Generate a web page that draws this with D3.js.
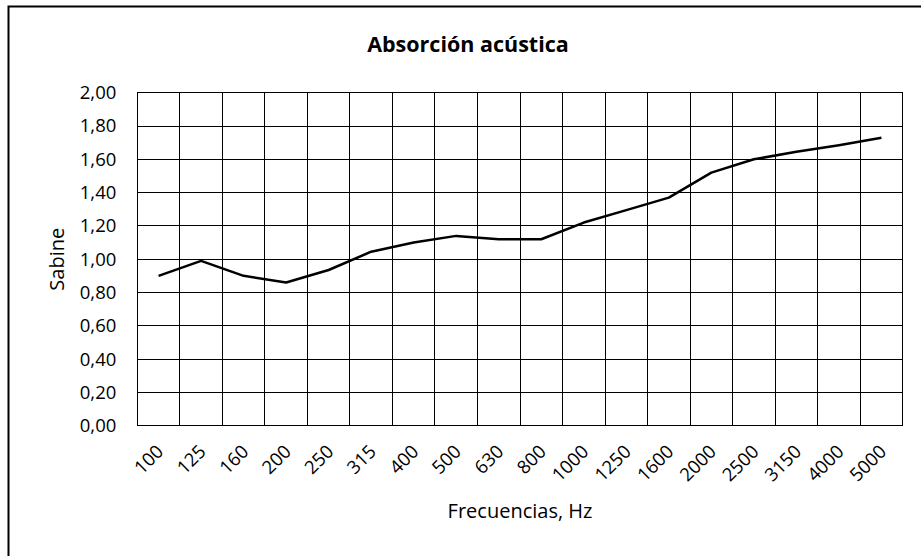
<!DOCTYPE html>
<html>
<head>
<meta charset="utf-8">
<script src="https://cdn.jsdelivr.net/npm/d3@7"></script>
<style>
  body { margin: 0; background: #fff; }
  text { font-family: "Open Sans", sans-serif; fill: #000; }
</style>
</head>
<body>
<svg id="chart"></svg>
<script>
// frecuencias (Hz) y absorción (Sabine)
const frequencies = ['100', '125', '160', '200', '250', '315', '400', '500', '630', '800',
  '1000', '1250', '1600', '2000', '2500', '3150', '4000', '5000']
const sabine = [0.90, 0.99, 0.90, 0.86, 0.935, 1.045, 1.10, 1.14, 1.12, 1.12,
  1.22, 1.295, 1.37, 1.52, 1.60, 1.645, 1.685, 1.73]
const yTicks = [0, 0.2, 0.4, 0.6, 0.8, 1.0, 1.2, 1.4, 1.6, 1.8, 2.0]

const width = 921, height = 556
const margin = {top: 92.7, right: 18.3, bottom: 130.3, left: 137.3}

const svg = d3.select('#chart')
  .attr('width', width)
  .attr('height', height)

// marco exterior
svg.append('rect')
  .attr('x', 8.5)
  .attr('y', 6.5)
  .attr('width', width + 20)
  .attr('height', height + 20)
  .attr('fill', 'none')
  .attr('stroke', '#000')
  .attr('stroke-width', 2)

const xScale = d3.scaleBand()
  .domain(frequencies)
  .range([margin.left, width - margin.right])

const yScale = d3.scaleLinear()
  .domain([0, 2])
  .range([height - margin.bottom, margin.top])

const fmt = v => d3.format('.2f')(v).replace('.', ',')

// rejilla horizontal
svg.append('g')
  .selectAll('line')
  .data(yTicks)
  .enter().append('line')
    .attr('x1', margin.left)
    .attr('x2', width - margin.right)
    .attr('y1', d => yScale(d))
    .attr('y2', d => yScale(d))
    .attr('stroke', '#000')
    .attr('stroke-width', 1)
    .attr('shape-rendering', 'crispEdges')

// rejilla vertical
const vLines = frequencies.map(f => xScale(f)).concat([width - margin.right])
svg.append('g')
  .selectAll('line')
  .data(vLines)
  .enter().append('line')
    .attr('x1', d => d)
    .attr('x2', d => d)
    .attr('y1', margin.top)
    .attr('y2', height - margin.bottom)
    .attr('stroke', '#000')
    .attr('stroke-width', 1)
    .attr('shape-rendering', 'crispEdges')

// eje y
const yAxis = d3.axisLeft(yScale)
  .tickValues(yTicks)
  .tickFormat(fmt)
  .tickSize(0)
  .tickPadding(21)

svg.append('g')
  .attr('class', 'y axis')
  .attr('transform', `translate(${margin.left}, 0)`)
  .call(yAxis)
  .call(g => g.select('.domain').remove())
  .selectAll('text')
    .style('font-size', '18.5px')

// eje x
const xAxis = d3.axisBottom(xScale).tickSize(0)
svg.append('g')
  .attr('class', 'x axis')
  .attr('transform', `translate(0, ${height - margin.bottom})`)
  .call(xAxis)
  .call(g => g.select('.domain').remove())
  .selectAll('text')
    .style('font-size', '18.5px')
    .attr('text-anchor', 'end')
    .attr('dy', null)
    .attr('y', 0)
    .attr('transform', 'translate(6, 27) rotate(-45)')

// línea
const line = d3.line()
  .x((d, i) => xScale(frequencies[i]) + xScale.bandwidth() / 2)
  .y(d => yScale(d))

svg.append('path')
  .datum(sabine)
  .attr('d', line)
  .attr('fill', 'none')
  .attr('stroke', '#000')
  .attr('stroke-width', 2.5)
  .attr('stroke-linejoin', 'round')

// títulos
svg.append('text')
  .attr('x', 468)
  .attr('y', 52)
  .attr('text-anchor', 'middle')
  .style('font-size', '21.5px')
  .style('font-weight', 'bold')
  .text('Absorción acústica')

svg.append('text')
  .attr('x', 520)
  .attr('y', 518)
  .attr('text-anchor', 'middle')
  .style('font-size', '20px')
  .text('Frecuencias, Hz')

svg.append('text')
  .attr('transform', `translate(64, ${(margin.top + height - margin.bottom) / 2}) rotate(-90)`)
  .attr('text-anchor', 'middle')
  .style('font-size', '20px')
  .text('Sabine')
</script>
</body>
</html>
